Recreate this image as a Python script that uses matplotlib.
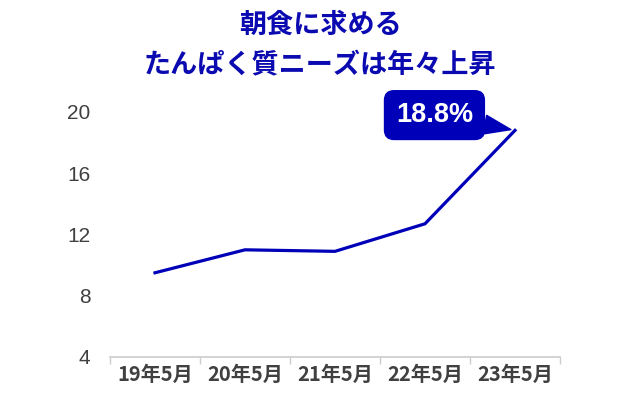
import numpy as np
import matplotlib
matplotlib.use('Agg')
import matplotlib.pyplot as plt

plt.rcParams['font.family'] = ['Noto Sans CJK JP', 'DejaVu Sans']

# data
months = ['19年5月', '20年5月', '21年5月', '22年5月', '23年5月']
share = [9.5, 11.0, 10.9, 12.7, 18.8]
yticks = [4, 8, 12, 16, 20]
title = '朝食に求める\nたんぱく質ニーズは年々上昇'
callout = '18.8%'

blue = '#0000b8'
grey_txt = '#404040'

fig = plt.figure(figsize=(6.4, 4.0), dpi=100)
ax = fig.add_axes([110 / 640, 1 - 357 / 400, 450 / 640, 245 / 400])

x = np.arange(len(months))
ax.plot(x, share, color=blue, lw=2.3, solid_joinstyle='miter', clip_on=False)

ax.set_xlim(-0.5, len(months) - 0.5)
ax.set_ylim(yticks[0], yticks[-1])
ax.set_yticks(yticks)
ax.set_yticklabels([str(v) for v in yticks], family=['Liberation Sans', 'DejaVu Sans'],
                   fontsize=15, color=grey_txt)
ax.tick_params(axis='y', length=0, pad=14)

ax.set_xticks(x)
ax.set_xticklabels(months, fontsize=14.5, fontweight='bold', color=grey_txt)
ax.set_xticks(np.arange(-0.5, len(months)), minor=True)
ax.tick_params(axis='x', which='major', length=0, pad=5)
ax.tick_params(axis='x', which='minor', length=5, color='#cccccc', width=1)

for s in ['top', 'right', 'left']:
    ax.spines[s].set_visible(False)
ax.spines['bottom'].set_color('#cccccc')
ax.spines['bottom'].set_linewidth(1.2)

# callout on last point
ax.annotate(callout, xy=(x[-1], share[-1]), xytext=(-58, 11), textcoords='offset points',
            ha='center', va='center', fontsize=19.5, fontweight='bold', color='white',
            family=['Liberation Sans', 'DejaVu Sans'],
            bbox=dict(boxstyle='round,pad=0.42,rounding_size=0.35', fc=blue, ec=blue),
            arrowprops=dict(arrowstyle='wedge,tail_width=0.7', fc=blue, ec=blue,
                            shrinkA=0, shrinkB=3),
            annotation_clip=False)

fig.text(0.5, 1 - 45 / 400, title, ha='center', va='center', fontsize=19.5,
         fontweight='bold', color='#0a0ab0', linespacing=1.55)

fig.savefig('out.png', dpi=100)
